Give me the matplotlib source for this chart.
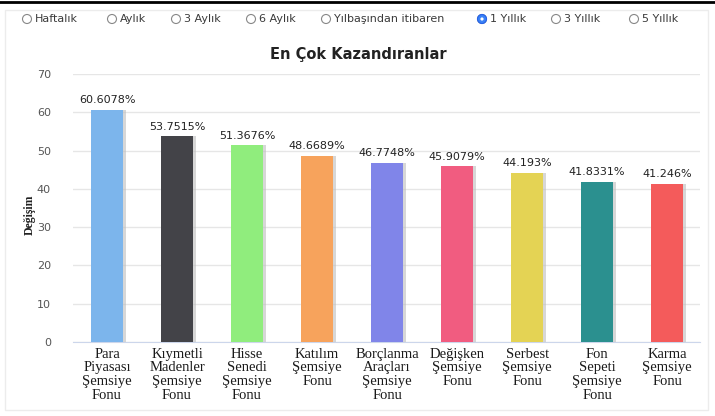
import matplotlib.pyplot as plt
from matplotlib.patches import Rectangle, Circle
from matplotlib.lines import Line2D

categories = [
    "Para\nPiyasası\nŞemsiye\nFonu",
    "Kıymetli\nMadenler\nŞemsiye\nFonu",
    "Hisse\nSenedi\nŞemsiye\nFonu",
    "Katılım\nŞemsiye\nFonu",
    "Borçlanma\nAraçları\nŞemsiye\nFonu",
    "Değişken\nŞemsiye\nFonu",
    "Serbest\nŞemsiye\nFonu",
    "Fon\nSepeti\nŞemsiye\nFonu",
    "Karma\nŞemsiye\nFonu",
]
values = [60.6078, 53.7515, 51.3676, 48.6689, 46.7748, 45.9079, 44.193, 41.8331, 41.246]
value_labels = ["60.6078%", "53.7515%", "51.3676%", "48.6689%", "46.7748%",
                "45.9079%", "44.193%", "41.8331%", "41.246%"]
colors = ["#7cb5ec", "#434348", "#90ed7d", "#f7a35c", "#8085e9",
          "#f15c80", "#e4d354", "#2b908f", "#f45b5b"]
periods = ["Haftalık", "Aylık", "3 Aylık", "6 Aylık", "Yılbaşından itibaren",
           "1 Yıllık", "3 Yıllık", "5 Yıllık"]
period_x = [22, 107, 171, 246, 321, 477, 551, 629]
selected = "1 Yıllık"

W, H = 715, 416
fig = plt.figure(figsize=(W / 100, H / 100), dpi=100)
fig.patch.set_facecolor("white")

# page frame
fig.add_artist(Line2D([0, 1], [1 - 1.5 / H, 1 - 1.5 / H], color="black", lw=2,
                      transform=fig.transFigure))
fig.add_artist(Rectangle((5 / W, 6 / H), 703 / W, 400 / H, fill=False,
                         ec="#ececec", lw=1, transform=fig.transFigure))

# radio buttons
ry = 1 - 19 / H
for px, name in zip(period_x, periods):
    fig.add_artist(Circle((px + 5, H - 19), 4.5, transform=None, fill=False,
                          ec="#888888", lw=0.8))
    if name == selected:
        fig.add_artist(Circle((px + 5, H - 19), 4.5, transform=None,
                              fc="#3b82f6", ec="#2563eb", lw=0.8))
        fig.add_artist(Circle((px + 5, H - 19), 1.6, transform=None, fc="white", ec="none"))
    fig.text((px + 13) / W, ry, name, fontsize=8, color="#3a3a3a",
             va="center", ha="left", family="DejaVu Sans", fontweight="medium")

ax = fig.add_axes([73 / W, 74 / H, 627 / W, 268 / H])
x = list(range(len(values)))
bw = 0.46
# shadows
ax.bar([i + 0.04 for i in x], values, width=bw, color="#bdbdbd", alpha=0.6, zorder=2)
ax.bar(x, values, width=bw, color=colors, zorder=3)
for i, (v, lab) in enumerate(zip(values, value_labels)):
    ax.text(i, v + 1.2, lab, ha="center", va="bottom", fontsize=8,
            color="#222222", family="DejaVu Sans")

ax.set_xlim(-0.486, 8.47)
ax.set_ylim(0, 70)
ax.set_yticks(range(0, 71, 10))
ax.yaxis.grid(True, color="#e6e6e6", lw=1, zorder=0)
ax.set_axisbelow(True)
for s in ["top", "right", "left"]:
    ax.spines[s].set_visible(False)
ax.spines["bottom"].set_color("#ccd6eb")
ax.tick_params(axis="y", length=0, labelsize=8, labelcolor="#555555", pad=16)
ax.set_xticks(x)
ax.set_xticklabels(categories, family="Liberation Serif", fontsize=10.5,
                   color="#1a1a1a", linespacing=1.08)
ax.tick_params(axis="x", length=0, pad=4)

fig.text(30 / W, 1 - 215 / H, "Değişim", rotation=90, ha="center", va="center",
         fontsize=8.5, family="Liberation Serif", fontweight="bold", color="#222222")
fig.text(358 / W, 1 - 55 / H, "En Çok Kazandıranlar", ha="center", va="center",
         fontsize=10.5, fontweight="bold", color="#222222", family="DejaVu Sans")

fig.savefig("out.png", dpi=100, facecolor="white")
